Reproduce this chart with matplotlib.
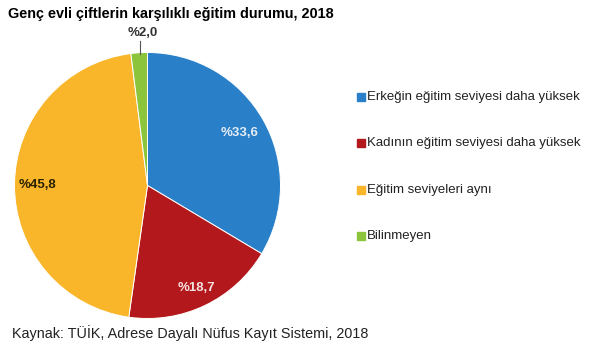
import matplotlib.pyplot as plt
import numpy as np

plt.rcParams["font.family"] = ["Liberation Sans", "DejaVu Sans"]

labels = ["Erkeğin eğitim seviyesi daha yüksek",
          "Kadının eğitim seviyesi daha yüksek",
          "Eğitim seviyeleri aynı",
          "Bilinmeyen"]
values = [33.6, 18.7, 45.8, 2.0]
colors = ["#2A80C8", "#B3191C", "#F9B62A", "#8CC43C"]
pct_text = ["%33,6", "%18,7", "%45,8", "%2,0"]
text_colors = ["#E4ECF6", "#F4E0E0", "#2A2200", "#333333"]

W, H = 600, 353
fig = plt.figure(figsize=(6, 3.53), dpi=100)
cx, cy, R = 147.5, 185.5, 133
ax = fig.add_axes([(cx - R) / W, 1 - (cy + R) / H, 2 * R / W, 2 * R / H])
wedges, _ = ax.pie(values, colors=colors, startangle=90, counterclock=False,
                   wedgeprops=dict(edgecolor="white", linewidth=0.7))
ax.set_xlim(-1, 1)
ax.set_ylim(-1, 1)
ax.set_aspect("auto")

radii = [0.80, 0.85, 0.83]
for w, t, r, tc in zip(wedges[:3], pct_text[:3], radii, text_colors[:3]):
    ang = np.deg2rad((w.theta1 + w.theta2) / 2)
    ax.text(r * np.cos(ang), r * np.sin(ang), t, ha="center", va="center",
            fontsize=9.5, fontweight="bold", color=tc)

# small slice label outside with leader line
ax.plot([-0.056, -0.056], [0.99, 1.09], color="#555555", lw=0.8, clip_on=False)
ax.text(-0.035, 1.145, pct_text[3], ha="center", va="center", fontsize=9.5,
        fontweight="bold", color=text_colors[3], clip_on=False)

fig.text(8 / W, 1 - 14 / H, "Genç evli çiftlerin karşılıklı eğitim durumu, 2018",
         fontsize=10.4, fontweight="bold", va="center", ha="left")
fig.text(12 / W, 1 - 333 / H, "Kaynak: TÜİK, Adrese Dayalı Nüfus Kayıt Sistemi, 2018",
         fontsize=10.4, va="center", ha="left", color="#222222")

ys = [97, 143, 190, 236]
for lab, c, y in zip(labels, colors, ys):
    fig.patches.append(plt.Rectangle((357 / W, 1 - (y + 4) / H), 8 / W, 8 / H,
                                     transform=fig.transFigure, color=c))
    fig.text(367 / W, 1 - y / H, lab, fontsize=9.5, va="center", ha="left",
             color="#222222")

fig.savefig("out.png", dpi=100, facecolor="white")
